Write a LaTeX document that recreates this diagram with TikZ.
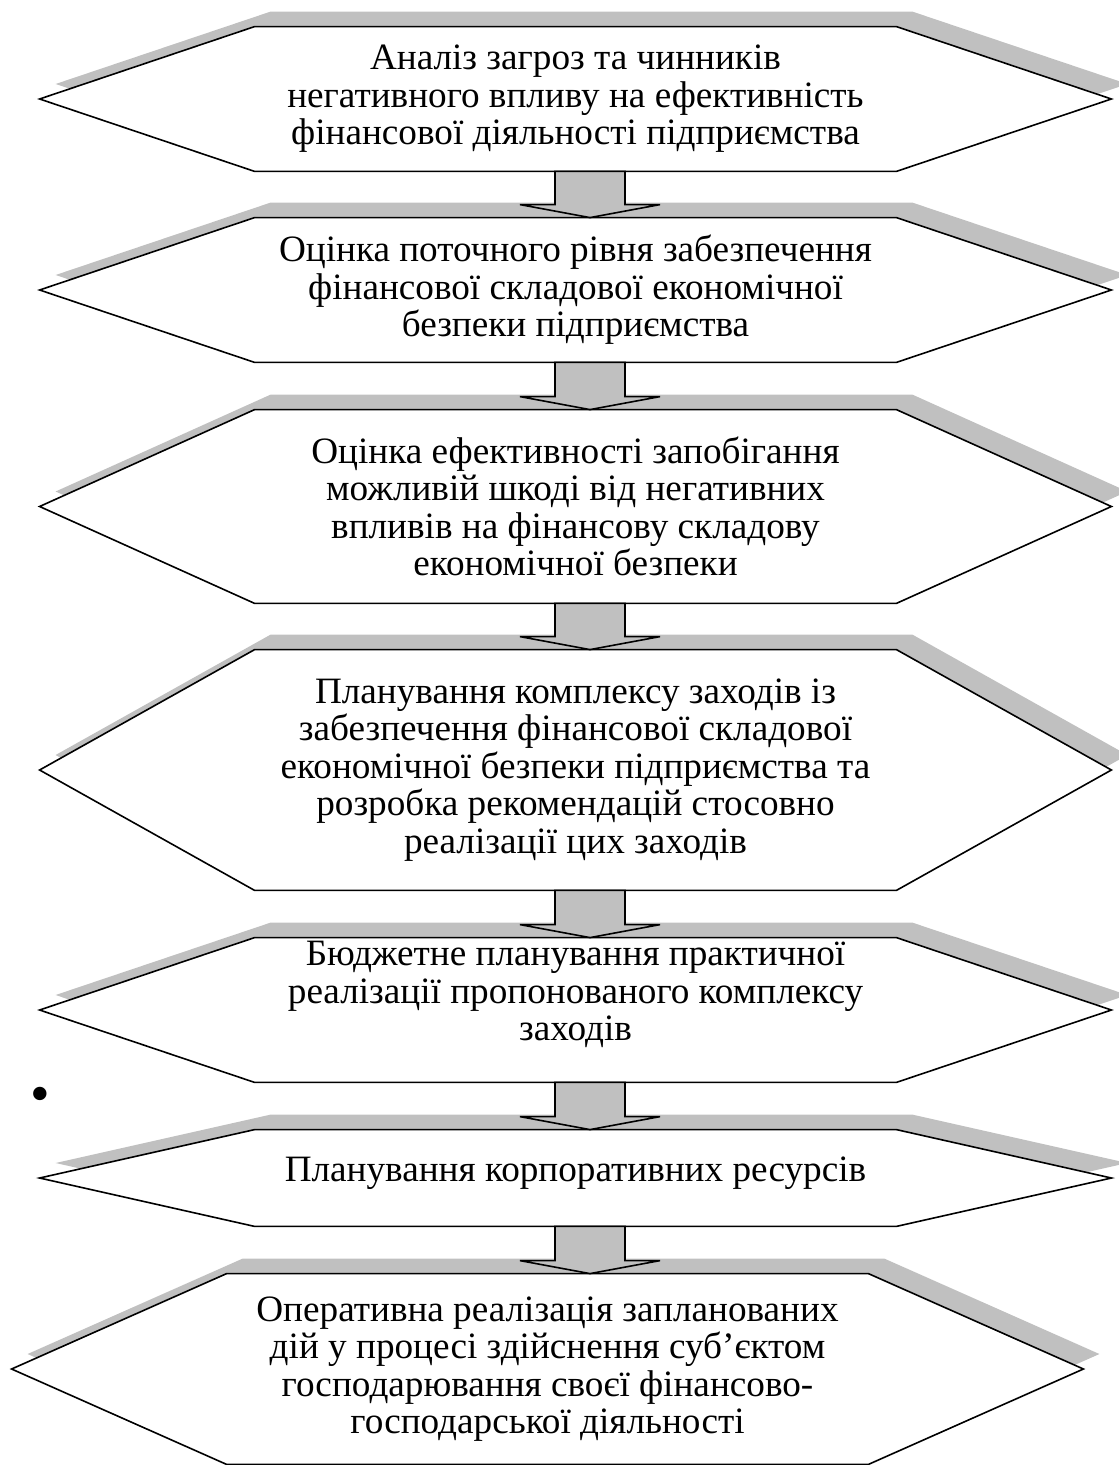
\documentclass[tikz,border=0pt]{standalone}
\usepackage{fontspec}
\setmainfont{Liberation Serif}
\usetikzlibrary{backgrounds}
\definecolor{shadowgrey}{HTML}{C0C0C0}
\tikzset{
	stage/.style={inner sep=0pt, minimum width=535.5pt, align=center, font=\fontsize{18.6}{18.75}\selectfont},
	hexline/.style={draw=black, fill=white, line width=0.8pt},
	hexshadow/.style={fill=shadowgrey, draw=none},
	flow/.style={draw=black, fill=shadowgrey, line width=0.8pt}
}
\newcommand{\hexpath}[3]{([shift={(#2,#3)}]#1.west) -- ([shift={(107.5pt+#2,#3)}]#1.north west) -- ([shift={(-107.5pt+#2,#3)}]#1.north east) -- ([shift={(#2,#3)}]#1.east) -- ([shift={(-107.5pt+#2,#3)}]#1.south east) -- ([shift={(107.5pt+#2,#3)}]#1.south west) -- cycle}
\begin{document}
\begin{tikzpicture}[x=0.5pt, y=0.5pt]
	\useasboundingbox (0,0) rectangle (1118,-1465);
	\node[stage, minimum height=72pt] (h1) at (575.5,-99) {Аналіз загроз та чинників\\негативного впливу на ефективність\\фінансової діяльності підприємства};
	\node[stage, minimum height=72pt] (h2) at (575.5,-290) {Оцінка поточного рівня забезпечення\\фінансової складової економічної\\безпеки підприємства};
	\node[stage, minimum height=96.5pt] (h3) at (575.5,-506.5) {Оцінка ефективності запобігання\\можливій шкоді від негативних\\впливів на фінансову складову\\економічної безпеки};
	\node[stage, minimum height=120pt] (h4) at (575.5,-770) {Планування комплексу заходів із\\забезпечення фінансової складової\\економічної безпеки підприємства та\\розробка рекомендацій стосовно\\реалізації цих заходів};
	\node[stage, minimum height=72pt] (h5) at (575.5,-1010) {Бюджетне планування практичної\\реалізації пропонованого комплексу\\заходів\\~};
	\node[stage, minimum height=48pt, text depth=9pt] (h6) at (575.5,-1178) {Планування корпоративних ресурсів};
	\node[stage, minimum height=95pt] (h7) at (547.5,-1369) {Оперативна реалізація запланованих\\дій у процесі здійснення суб’єктом\\господарювання своєї фінансово-\\господарської діяльності};
	\node[font=\fontsize{28}{28}\selectfont, inner sep=0pt] (dot) at (40,-1100) {\textbullet};
	% shadows and outlines
	\begin{scope}[on background layer]
		\foreach \n in {1,...,7} {
			\fill[hexshadow] \hexpath{h\n}{8pt}{7.5pt};
			\draw[hexline] \hexpath{h\n}{0pt}{0pt};
		}
	\end{scope}
	% block arrows
	\coordinate (axis) at (590,0);
	\foreach \i [count=\j from 2] in {1,...,6} {
		\coordinate (top) at (h\i.south -| axis);
		\coordinate (tip) at (h\j.north -| axis);
		\filldraw[flow] ([xshift=-17.5pt]top) -- ([xshift=-17.5pt,yshift=6.5pt]tip) -- ([xshift=-35pt,yshift=6.5pt]tip) -- (tip) -- ([xshift=35pt,yshift=6.5pt]tip) -- ([xshift=17.5pt,yshift=6.5pt]tip) -- ([xshift=17.5pt]top) -- cycle;
	}
\end{tikzpicture}
\end{document}
